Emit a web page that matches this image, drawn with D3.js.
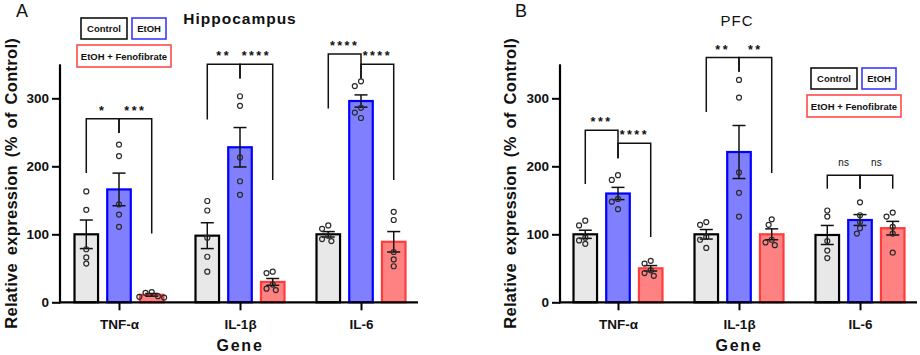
<!DOCTYPE html>
<html><head><meta charset="utf-8">
<script src="https://cdn.jsdelivr.net/npm/d3@7/dist/d3.min.js"></script>
<style>
body{margin:0;background:#fff}
svg{display:block}
text{font-family:Arial,"Liberation Sans",sans-serif;fill:#111}
</style>
</head><body>
<svg id="chart" width="920" height="355"></svg>
<script>
// ---------------- data ----------------
const genes = ["TNF-α", "IL-1β", "IL-6"];
const groups = ["Control", "EtOH", "EtOH + Fenofibrate"];
const yTicks = [0, 100, 200, 300];

// Hippocampus (panel A): [gene][group]
const hipMeans = [[100, 166, 11], [98, 228, 30], [100, 296, 89]];
const hipSem = [[21, 24, 2], [19, 29, 5], [4, 9, 15]];
const hipPoints = [
  [[163, 136, 78, 66, 57], [232, 215, 144, 129, 111], [15, 14, 9, 8, 7]],
  [[149, 135, 95, 67, 45], [303, 289, 213, 178, 158], [43, 45, 26, 20, 18]],
  [[113, 108, 98, 93, 90], [325, 318, 286, 279, 271], [133, 121, 74, 63, 53]]
];
// significance: gene, groupA, groupB, bracket height, leg end A, leg end B, label
const hipSig = [
  [0, 0, 1, 270, 190, 249, "*"],
  [0, 1, 2, 270, 249, 101, "***"],
  [1, 0, 1, 350, 269, 329, "**"],
  [1, 1, 2, 350, 329, 180, "****"],
  [2, 0, 1, 365, 285, 329, "****"],
  [2, 1, 2, 350, 329, 180, "****"]
];

// PFC (panel B)
const pfcMeans = [[100, 160, 50], [100, 221, 100], [99, 121, 109]];
const pfcSem = [[6, 9, 4], [7, 39, 8], [14, 8, 10]];
const pfcPoints = [
  [[120, 113, 95, 91, 86], [187, 180, 152, 148, 137], [61, 57, 47, 43, 39]],
  [[118, 114, 96, 92, 80], [327, 301, 191, 161, 126], [122, 114, 92, 88, 84]],
  [[135, 126, 90, 76, 65], [147, 128, 118, 109, 101], [132, 126, 111, 101, 73]]
];
const pfcSig = [
  [0, 0, 1, 253, 174, 212, "***"],
  [0, 1, 2, 234, 212, 96, "****"],
  [1, 0, 1, 360, 280, 339, "**"],
  [1, 1, 2, 360, 339, 190, "**"],
  [2, 0, 1, 187, 167, 167, "ns"],
  [2, 1, 2, 187, 167, 167, "ns"]
];

// ---------------- styles ----------------
const fills = ["#e8e8e8", "#8080ff", "#ff8282"];
const strokes = ["#000000", "#0000ff", "#ff3c3c"];
const legendStrokes = ["#111111", "#3a3aff", "#ff4a4a"];

const svg = d3.select("#chart");

function drawPanel(cfg) {
  const g = svg.append("g");
  const y = d3.scaleLinear().domain([0, 350]).range([302.3, 64.3]);
  const x = d3.scalePoint().domain(genes).range(cfg.xRange);
  const xb = d3.scaleBand().domain(groups).range([-44.5, 44.5]).paddingInner(0.28);
  const bw = xb.bandwidth();
  const off = gi => xb(groups[gi]) + bw / 2;

  // bars
  genes.forEach((gene, i) => {
    groups.forEach((grp, j) => {
      const m = cfg.means[i][j];
      g.append("rect")
        .attr("x", x(gene) + xb(grp))
        .attr("y", y(m))
        .attr("width", bw)
        .attr("height", y(0) - y(m))
        .attr("fill", fills[j])
        .attr("stroke", strokes[j])
        .attr("stroke-width", 2.2);
    });
  });

  // error bars
  genes.forEach((gene, i) => {
    groups.forEach((grp, j) => {
      const m = cfg.means[i][j], s = cfg.sem[i][j];
      const cx = x(gene) + off(j);
      const eg = g.append("g").attr("stroke", "#111").attr("stroke-width", 1.5);
      eg.append("line").attr("x1", cx).attr("x2", cx).attr("y1", y(m - s)).attr("y2", y(m + s));
      [m - s, m + s].forEach(v => eg.append("line").attr("x1", cx - 6.5).attr("x2", cx + 6.5).attr("y1", y(v)).attr("y2", y(v)));
    });
  });

  // points (dodged)
  const r = 2.5;
  genes.forEach((gene, i) => {
    groups.forEach((grp, j) => {
      const cx = x(gene) + off(j);
      const vals = cfg.points[i][j].slice().sort((a, b) => b - a);
      const placed = [];
      vals.forEach(v => {
        const py = y(v);
        const step = 2 * r + 1.2;
        const cands = [0, -0.5, 0.5, -1, 1, -1.5, 1.5, -2, 2].map(k => k * step);
        for (const dx of cands) {
          if (placed.every(q => Math.hypot(q.dx - dx, q.py - py) >= 2 * r + 1)) {
            placed.push({ dx, py }); break;
          }
        }
      });
      placed.forEach(p => g.append("circle")
        .attr("cx", cx + p.dx).attr("cy", p.py).attr("r", r)
        .attr("fill", "none").attr("stroke", "#2a2a2a").attr("stroke-width", 1.2));
    });
  });

  // significance brackets
  cfg.sig.forEach(([gi, a, b, h, la, lb, lab]) => {
    const xa = x(genes[gi]) + off(a), xb2 = x(genes[gi]) + off(b);
    g.append("path")
      .attr("d", `M${xa},${y(la)}V${y(h)}H${xb2}V${y(lb)}`)
      .attr("fill", "none").attr("stroke", "#111").attr("stroke-width", 1.5);
    const isNs = lab === "ns";
    g.append("text")
      .attr("x", (xa + xb2) / 2)
      .attr("y", y(h) - (isNs ? 9 : 4))
      .attr("text-anchor", "middle")
      .attr("font-size", isNs ? 10 : 12.5)
      .attr("font-weight", isNs ? "normal" : "bold")
      .attr("letter-spacing", isNs ? 0 : 2.5)
      .text(lab);
  });

  // y axis
  const ya = g.append("g").attr("transform", `translate(${cfg.x0},0)`)
    .call(d3.axisLeft(y).tickValues(yTicks).tickSize(8).tickPadding(3));
  ya.select(".domain").remove();
  ya.selectAll(".tick line").attr("stroke", "#000").attr("stroke-width", 2);
  ya.selectAll(".tick text").attr("font-size", 13.5).attr("font-weight", "bold")
    .attr("font-family", "Arial, 'Liberation Sans', sans-serif").attr("fill", "#111");
  g.append("line").attr("x1", cfg.x0).attr("x2", cfg.x0).attr("y1", y(0) + 1).attr("y2", y(350))
    .attr("stroke", "#000").attr("stroke-width", 2.2);

  // x axis
  const xa = g.append("g").attr("transform", `translate(0,${y(0)})`)
    .call(d3.axisBottom(x).tickSize(8).tickPadding(9));
  xa.select(".domain").remove();
  xa.selectAll(".tick line").attr("stroke", "#000").attr("stroke-width", 2);
  xa.selectAll(".tick text").attr("font-size", 13.5).attr("font-weight", "bold")
    .attr("font-family", "Arial, 'Liberation Sans', sans-serif").attr("fill", "#111");
  g.append("line").attr("x1", cfg.x0 - 1).attr("x2", cfg.xEnd).attr("y1", y(0)).attr("y2", y(0))
    .attr("stroke", "#000").attr("stroke-width", 2.2);

  // axis titles
  g.append("text")
    .attr("transform", `translate(${cfg.yLabelX},${(y(0) + y(350)) / 2}) rotate(-90)`)
    .attr("text-anchor", "middle").attr("font-size", 16.5).attr("font-weight", "bold")
    .attr("letter-spacing", 0.3).attr("word-spacing", 3)
    .text("Relative expression (% of Control)");
  g.append("text")
    .attr("x", (x(genes[0]) + x(genes[2])) / 2).attr("y", 351)
    .attr("text-anchor", "middle").attr("font-size", 16).attr("font-weight", "bold")
    .attr("letter-spacing", 1.8)
    .text("Gene");

  // title and panel letter
  g.append("text").attr("x", cfg.titleX).attr("y", cfg.titleY)
    .attr("text-anchor", "middle").attr("font-size", cfg.titleSize)
    .attr("font-weight", cfg.titleBold ? "bold" : "normal")
    .attr("letter-spacing", cfg.titleSpacing)
    .text(cfg.title);
  g.append("text").attr("x", cfg.letterX).attr("y", 17)
    .attr("font-size", 18).text(cfg.letter);

  // legend
  const L = cfg.legend;
  const boxes = [
    { x: L.x + 4, y: L.y, w: 46, h: 21, t: groups[0], c: legendStrokes[0] },
    { x: L.x + 55, y: L.y, w: 34, h: 21, t: groups[1], c: legendStrokes[1] },
    { x: L.x, y: L.y + 27, w: 94, h: 22, t: groups[2], c: legendStrokes[2] }
  ];
  boxes.forEach(b => {
    g.append("rect").attr("x", b.x).attr("y", b.y).attr("width", b.w).attr("height", b.h)
      .attr("fill", "#fff").attr("stroke", b.c).attr("stroke-width", 1.6);
    g.append("text").attr("x", b.x + b.w / 2).attr("y", b.y + b.h / 2 + 3.5)
      .attr("text-anchor", "middle").attr("font-size", 9.5).attr("font-weight", "bold")
      .text(b.t);
  });
}

drawPanel({
  means: hipMeans, sem: hipSem, points: hipPoints, sig: hipSig,
  x0: 60, xEnd: 418, xRange: [119, 361], yLabelX: 17,
  title: "Hippocampus", titleBold: true, titleX: 240, titleY: 23.5, titleSize: 15.5, titleSpacing: 1,
  letter: "A", letterX: 16, legend: { x: 77, y: 18 }
});
drawPanel({
  means: pfcMeans, sem: pfcSem, points: pfcPoints, sig: pfcSig,
  x0: 560, xEnd: 917, xRange: [618, 860], yLabelX: 515.5,
  title: "PFC", titleBold: false, titleX: 737, titleY: 26, titleSize: 15, titleSpacing: 1,
  letter: "B", letterX: 515, legend: { x: 807, y: 68 }
});
</script>
</body></html>
